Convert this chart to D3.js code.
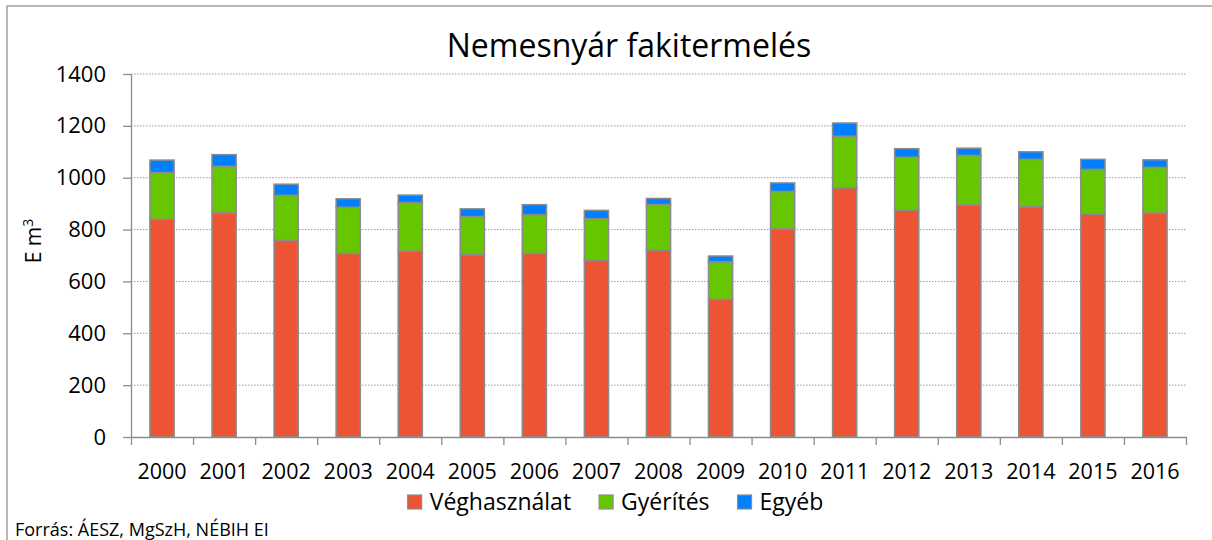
<!DOCTYPE html>
<html>
<head>
<meta charset="utf-8">
<script src="https://cdn.jsdelivr.net/npm/d3@7"></script>
<style>
  body { margin: 0; background: #fff; }
  svg { display: block; font-family: "Open Sans", sans-serif; }
</style>
</head>
<body>
<div id="chart"></div>
<script>
// data (E m3)
var years = ["2000","2001","2002","2003","2004","2005","2006","2007","2008","2009","2010","2011","2012","2013","2014","2015","2016"];
var veghasznalat = [840, 865, 759, 708, 717, 703, 708, 681, 721, 531, 803, 961, 875, 895, 888, 859, 864];
var gyerites     = [180, 179, 173, 178, 187, 147, 149, 161, 176, 145, 144, 199, 204, 191, 183, 173, 176];
var egyeb        = [ 48,  45,  43,  33,  29,  30,  39,  32,  23,  22,  33,  51,  33,  28,  29,  39,  29];
var seriesNames  = ["Véghasználat", "Gyérítés", "Egyéb"];
var yTicks       = [0, 200, 400, 600, 800, 1000, 1200, 1400];

var colors = {"Véghasználat": "#ec5434", "Gyérítés": "#66c600", "Egyéb": "#0080ff"};

var W = 1212, H = 540;
var plotLeft = 131, plotRight = 1186, plotTop = 74, plotBottom = 437;

var svg = d3.select("#chart").append("svg")
    .attr("width", W).attr("height", H);

// outer chart border (right and bottom fall outside the picture)
svg.append("rect")
    .attr("x", 7).attr("y", 6)
    .attr("width", W + 10).attr("height", H + 10)
    .attr("fill", "none").attr("stroke", "#a0a0a0").attr("stroke-width", 1.5);

var table = years.map(function(y, i){
	return {year: y, "Véghasználat": veghasznalat[i], "Gyérítés": gyerites[i], "Egyéb": egyeb[i]};
});
var stacked = d3.stack().keys(seriesNames)(table);

var x = d3.scaleBand().domain(years).range([plotLeft, plotRight]).padding(0);
var xEdge = d3.scaleLinear().domain([0, years.length]).range([plotLeft, plotRight]);
var y = d3.scaleLinear().domain([0, 1400]).range([plotBottom, plotTop]);
var barW = x.bandwidth() * 0.39;

// gridlines
svg.append("g").selectAll("line")
    .data(yTicks.filter(function(d){return d > 0;}))
  .enter().append("line")
    .attr("x1", plotLeft).attr("x2", plotRight)
    .attr("y1", function(d){return y(d);}).attr("y2", function(d){return y(d);})
    .attr("stroke", "#9a9a9a").attr("stroke-width", 1)
    .attr("stroke-dasharray", "1.5,1.5");

// bars
svg.append("g").selectAll("g")
    .data(stacked)
  .enter().append("g")
    .attr("fill", function(d){return colors[d.key];})
  .selectAll("rect")
    .data(function(d){return d;})
  .enter().append("rect")
    .attr("x", function(d){return x(d.data.year) + (x.bandwidth() - barW) / 2;})
    .attr("width", barW)
    .attr("y", function(d){return y(d[1]);})
    .attr("height", function(d){return y(d[0]) - y(d[1]);})
    .attr("stroke", "#8c8c8c")
    .attr("stroke-width", 1.5);

// y axis
var yAxis = svg.append("g")
    .attr("transform", "translate(" + plotLeft + ",0)")
    .call(d3.axisLeft(y).tickValues(yTicks).tickFormat(d3.format("d"))
        .tickSize(8).tickSizeOuter(0).tickPadding(17));
yAxis.select(".domain").attr("stroke", "#8c8c8c").attr("stroke-width", 1.3);
yAxis.selectAll(".tick line").attr("stroke", "#8c8c8c").attr("stroke-width", 1.3);
yAxis.selectAll("text").attr("font-size", 22).attr("fill", "#000")
    .attr("font-family", "Open Sans");

// x axis: boundary ticks + centered labels
var xTickAxis = svg.append("g")
    .attr("transform", "translate(0," + plotBottom + ")")
    .call(d3.axisBottom(xEdge).ticks(years.length).tickFormat("").tickSize(8).tickSizeOuter(0));
xTickAxis.select(".domain").attr("stroke", "#8c8c8c").attr("stroke-width", 1.3);
xTickAxis.selectAll(".tick line").attr("stroke", "#8c8c8c").attr("stroke-width", 1.3);

var xLabelAxis = svg.append("g")
    .attr("transform", "translate(0," + plotBottom + ")")
    .call(d3.axisBottom(x).tickSize(0).tickPadding(27));
xLabelAxis.select(".domain").remove();
xLabelAxis.selectAll("text").attr("font-size", 21.5).attr("fill", "#000")
    .attr("font-family", "Open Sans");

// title
svg.append("text")
    .attr("x", 629).attr("y", 57)
    .attr("text-anchor", "middle")
    .attr("font-size", 32)
    .attr("fill", "#000")
    .text("Nemesnyár fakitermelés");

// y axis title
var yt = svg.append("text")
    .attr("transform", "translate(41,241) rotate(-90)")
    .attr("text-anchor", "middle")
    .attr("font-size", 21)
    .attr("fill", "#000");
yt.append("tspan").text("E m");
yt.append("tspan").attr("font-size", 14).attr("dy", -8).text("3");

// legend
var legend = svg.append("g");
var items = legend.selectAll("g")
    .data(seriesNames)
  .enter().append("g");
items.append("rect")
    .attr("width", 14).attr("height", 14)
    .attr("y", 495)
    .attr("fill", function(d){return colors[d];})
    .attr("stroke", "#8c8c8c").attr("stroke-width", 1.2);
items.append("text")
    .attr("x", 22).attr("y", 510)
    .attr("font-size", 23)
    .attr("fill", "#000")
    .text(function(d){return d;});
var pos = 0, gapItem = 28, offsets = [];
items.each(function(){
	offsets.push(pos);
	pos += 22 + d3.select(this).select("text").node().getComputedTextLength() + gapItem;
});
var total = pos - gapItem;
var startX = 615.5 - total / 2;
items.attr("transform", function(d, i){return "translate(" + (startX + offsets[i]) + ",0)";});

// source
svg.append("text")
    .attr("x", 15).attr("y", 536)
    .attr("font-size", 18)
    .attr("fill", "#000")
    .text("Forrás: ÁESZ, MgSzH, NÉBIH EI");
</script>
</body>
</html>
